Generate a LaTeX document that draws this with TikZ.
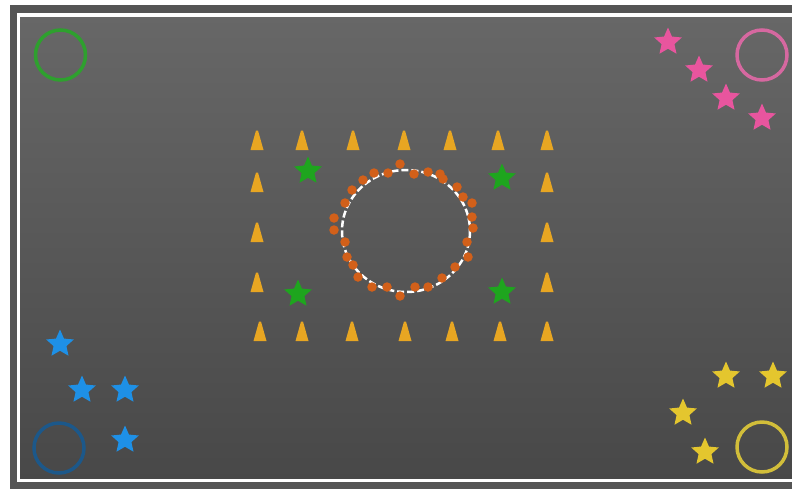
\documentclass[tikz,border=0pt]{standalone}
\usetikzlibrary{shapes.geometric}
\definecolor{frameDark}{RGB}{85,85,85}
\definecolor{fieldTop}{RGB}{103,103,103}
\definecolor{fieldBot}{RGB}{72,72,72}
\definecolor{coneCol}{RGB}{232,166,34}
\definecolor{dotCol}{RGB}{210,96,26}
\definecolor{greenStar}{RGB}{30,165,30}
\definecolor{greenRing}{RGB}{46,160,46}
\definecolor{pinkStar}{RGB}{232,85,158}
\definecolor{pinkRing}{RGB}{214,104,160}
\definecolor{blueStar}{RGB}{30,144,230}
\definecolor{blueRing}{RGB}{28,88,138}
\definecolor{yellowStar}{RGB}{228,198,46}
\definecolor{yellowRing}{RGB}{210,190,58}
\tikzset{
  starmark/.style={star, star points=5, star point ratio=2.15, minimum size=29pt, inner sep=0pt, draw=none, fill=#1},
  ring/.style={circle, minimum size=50pt, inner sep=0pt, line width=3.5pt, draw=#1},
  conemark/.style={fill=coneCol, draw=none},
  dotmark/.style={circle, fill=dotCol, minimum size=9.5pt, inner sep=0pt},
}
\newcommand{\conepath}[2]{\fill[conemark] (#1-6.5,#2+10) -- (#1-1,#2-9.5) -- (#1+1,#2-9.5) -- (#1+6.5,#2+10) -- cycle;}
\begin{document}
\begin{tikzpicture}[x=1pt,y=-1pt]
\useasboundingbox (0,0) rectangle (792,488);
\fill[white] (0,0) rectangle (792,488);
\fill[frameDark] (10,5) rectangle (800,495);
\shade[top color=fieldTop, bottom color=fieldBot] (18.5,15) rectangle (800,480.5);
\draw[white, line width=3.5pt] (18.5,15) rectangle (800,480.5);

% cones
\foreach \x in {257,302,353,404,450,498,547} {\conepath{\x}{140}}
\foreach \x in {260,302,352,405,452,500,547} {\conepath{\x}{331}}
\foreach \y in {182,232,282} {\conepath{257}{\y} \conepath{547}{\y}}

% central circle
\node[circle, minimum size=125pt, inner sep=0pt] (centre) at (406,231) {};
\draw[white, line width=2.5pt, dash pattern=on 7pt off 3pt] (406,231) circle[x radius=64, y radius=61];
\foreach \px/\py [count=\i] in {400/164,374/173,388/173,414/174,428/172,440/174,443/179,
  363/180,352/190,345/203,334/218,334/230,345/242,347/257,353/265,358/277,372/287,387/287,
  400/296,415/287,428/287,442/278,455/267,468/257,467/242,473/228,472/217,472/203,463/197,457/187}
  {\node[dotmark] (d\i) at (\px,\py) {};}

% green
\node[starmark=greenStar] (g1) at (308,171) {};
\node[starmark=greenStar] (g2) at (502,178) {};
\node[starmark=greenStar] (g3) at (298,294) {};
\node[starmark=greenStar] (g4) at (502,292) {};
\node[ring=greenRing] (gc) at (60.5,55) {};

% pink
\node[starmark=pinkStar] (p1) at (668,42) {};
\node[starmark=pinkStar] (p2) at (699,70) {};
\node[starmark=pinkStar] (p3) at (726,98) {};
\node[starmark=pinkStar] (p4) at (762,118) {};
\node[ring=pinkRing] (pc) at (762,55) {};

% blue
\node[starmark=blueStar] (b1) at (60,344) {};
\node[starmark=blueStar] (b2) at (82,390) {};
\node[starmark=blueStar] (b3) at (125,390) {};
\node[starmark=blueStar] (b4) at (125,440) {};
\node[ring=blueRing] (bc) at (59,448) {};

% yellow
\node[starmark=yellowStar] (y1) at (726,376) {};
\node[starmark=yellowStar] (y2) at (773,376) {};
\node[starmark=yellowStar] (y3) at (683,413) {};
\node[starmark=yellowStar] (y4) at (705,452) {};
\node[ring=yellowRing] (yc) at (762,447) {};
\end{tikzpicture}
\end{document}
